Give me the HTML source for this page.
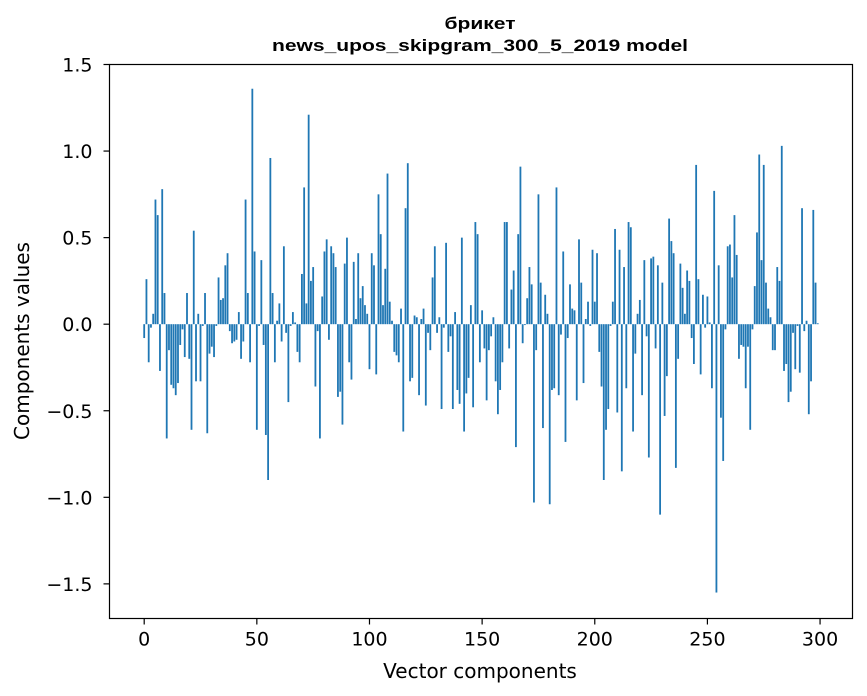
<!DOCTYPE html>
<html><head><meta charset="utf-8"><style>
body{margin:0;background:#fff;}
svg{display:block;font-family:"DejaVu Sans","Liberation Sans",sans-serif;}
</style></head><body>
<svg id="chart" width="867" height="696" viewBox="0 0 867 696" xmlns="http://www.w3.org/2000/svg">
<rect width="867" height="696" fill="#fff"/>
<text x="480" y="29" text-anchor="middle" font-size="17" font-weight="bold" font-family="Liberation Sans, sans-serif" textLength="71" lengthAdjust="spacingAndGlyphs">брикет</text>
<text x="480" y="51" text-anchor="middle" font-size="17" font-weight="bold" font-family="Liberation Sans, sans-serif" textLength="416" lengthAdjust="spacingAndGlyphs">news_upos_skipgram_300_5_2019 model</text>
<g id="bars"></g>
<g id="axes"></g>
<rect x="109.5" y="64.5" width="743" height="554" fill="none" stroke="#000" stroke-width="1.2"/>
<text x="480" y="678" text-anchor="middle" font-size="20">Vector components</text>
<text x="0" y="0" transform="translate(29,341) rotate(-90)" text-anchor="middle" font-size="20">Components values</text>
</svg>
<script>
const values = [
-0.08,0.26,-0.22,-0.02,0.06,0.72,0.63,-0.27,0.78,0.18,
-0.66,-0.15,-0.35,-0.37,-0.41,-0.34,-0.12,-0.03,-0.19,0.18,
-0.20,-0.61,0.54,-0.33,0.06,-0.33,-0.01,0.18,-0.63,-0.17,
-0.13,-0.19,-0.01,0.27,0.14,0.15,0.34,0.41,-0.04,-0.11,
-0.10,-0.09,0.07,-0.20,-0.10,0.72,0.18,-0.22,1.36,0.42,
-0.61,-0.01,0.37,-0.12,-0.64,-0.90,0.96,0.18,-0.22,0.02,
0.12,-0.10,0.45,-0.05,-0.45,-0.01,0.07,0.01,-0.16,-0.22,
0.29,0.79,0.12,1.21,0.25,0.33,-0.36,-0.04,-0.66,0.16,
0.42,0.49,-0.09,0.45,0.41,0.33,-0.42,-0.39,-0.58,0.35,
0.50,-0.22,-0.32,0.36,0.03,0.41,0.15,0.22,0.11,0.06,
-0.26,0.41,0.34,-0.29,0.75,0.52,0.11,0.32,0.87,0.13,
0.02,-0.16,-0.18,-0.22,0.09,-0.62,0.67,0.93,-0.33,-0.31,
0.05,0.04,-0.41,0.03,0.09,-0.47,-0.05,-0.15,0.27,0.45,
-0.05,0.04,-0.49,-0.02,0.47,-0.16,-0.07,-0.49,0.07,-0.38,
-0.46,0.50,-0.62,-0.40,-0.31,0.11,-0.48,0.59,0.52,-0.22,
0.08,-0.14,-0.44,-0.15,-0.07,0.04,-0.33,-0.52,-0.38,-0.22,
0.59,0.59,-0.14,0.20,0.31,-0.71,0.52,0.91,-0.11,-0.005,
0.15,0.33,0.23,-1.03,-0.15,0.75,0.24,-0.60,0.17,0.06,
-1.04,-0.38,-0.37,0.79,-0.41,-0.06,0.42,-0.68,-0.08,0.23,
0.09,0.08,-0.44,0.49,0.24,-0.34,0.03,0.13,-0.01,0.43,
0.13,0.41,-0.16,-0.36,-0.90,-0.61,-0.49,-0.01,0.13,0.55,
-0.51,0.43,-0.85,0.33,-0.37,0.59,0.56,-0.62,-0.17,0.06,
0.14,-0.41,0.37,-0.07,-0.77,0.38,0.39,-0.14,0.34,-1.10,
0.24,-0.53,-0.30,0.61,0.48,0.41,-0.83,-0.20,0.35,0.21,
0.06,0.31,0.25,-0.08,-0.23,0.92,0.26,-0.29,0.17,-0.02,
0.16,0.01,-0.37,0.77,-1.55,0.34,-0.54,-0.79,-0.03,0.45,
0.46,0.27,0.63,0.40,-0.20,-0.12,-0.13,-0.37,-0.13,-0.61,
-0.03,0.22,0.53,0.98,0.37,0.92,0.24,0.09,0.04,-0.15,
-0.15,0.33,0.25,1.03,-0.27,-0.23,-0.45,-0.39,-0.05,-0.26,
-0.01,-0.28,0.67,-0.04,0.02,-0.52,-0.33,0.66,0.24,0.005
];
const xTicks = [0,50,100,150,200,250,300];
const yTicks = [-1.5,-1.0,-0.5,0.0,0.5,1.0,1.5];
const yTickLabels = ["\u22121.5","\u22121.0","\u22120.5","0.0","0.5","1.0","1.5"];

const NS = "http://www.w3.org/2000/svg";
const X0 = 109.5, X1 = 852.5, Y0 = 618.5, Y1 = 64.5;
const xMin = -15.4, xMax = 314.4, yMin = -1.70, yMax = 1.50;
function xs(v){ return X0 + (v - xMin) / (xMax - xMin) * (X1 - X0); }
function ys(v){ return Y0 - (v - yMin) / (yMax - yMin) * (Y0 - Y1); }

const barsG = document.getElementById('bars');
values.forEach((v, i) => {
  const r = document.createElementNS(NS, 'rect');
  
  
  const xa = xs(i - 0.4), xb = xs(i + 0.4);
  const ya = ys(Math.max(v, 0)), yb = ys(Math.min(v, 0));
  r.setAttribute('x', xa);
  r.setAttribute('width', xb - xa);
  r.setAttribute('y', ya);
  r.setAttribute('height', Math.max(yb - ya, 0.3));
  r.setAttribute('fill', '#1f77b4');
  barsG.appendChild(r);
});

const axG = document.getElementById('axes');
xTicks.forEach(t => {
  const x = xs(t);
  const l = document.createElementNS(NS, 'line');
  
  
  l.setAttribute('x1', x); l.setAttribute('x2', x);
  l.setAttribute('y1', Y0); l.setAttribute('y2', Y0 + 6);
  l.setAttribute('stroke', '#000');
  l.setAttribute('stroke-width', '1.2');
  axG.appendChild(l);
  const tx = document.createElementNS(NS, 'text');
  
  
  tx.setAttribute('x', x); tx.setAttribute('y', Y0 + 27);
  tx.setAttribute('text-anchor', 'middle');
  tx.setAttribute('font-size', '19');
  tx.textContent = String(t);
  axG.appendChild(tx);
});
yTicks.forEach((t, k) => {
  const y = ys(t);
  const l = document.createElementNS(NS, 'line');
  
  
  l.setAttribute('x1', X0 - 6); l.setAttribute('x2', X0);
  l.setAttribute('y1', y); l.setAttribute('y2', y);
  l.setAttribute('stroke', '#000');
  l.setAttribute('stroke-width', '1.2');
  axG.appendChild(l);
  const tx = document.createElementNS(NS, 'text');
  
  
  tx.setAttribute('x', X0 - 17); tx.setAttribute('y', y + 7);
  tx.setAttribute('text-anchor', 'end');
  tx.setAttribute('font-size', '19');
  tx.textContent = yTickLabels[k];
  axG.appendChild(tx);
});
</script>
</body></html>
